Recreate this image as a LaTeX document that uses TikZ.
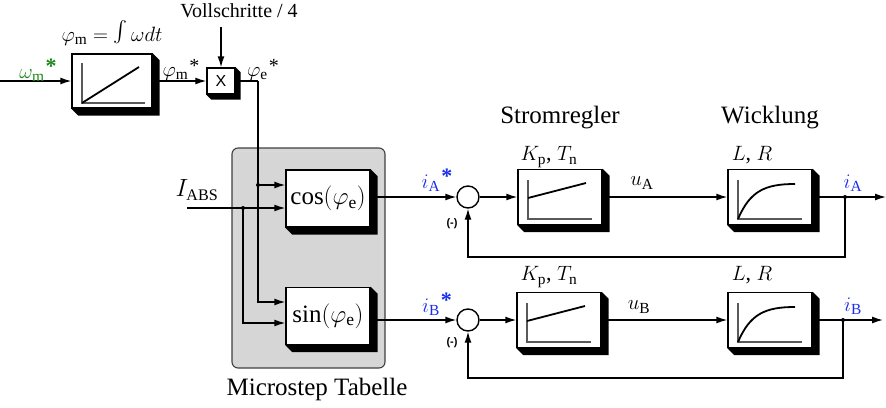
\documentclass[tikz,border=0pt]{standalone}
\usepackage{fontspec}
\setmainfont{Liberation Serif}
\newfontfamily\arialf{Liberation Sans}
\usetikzlibrary{arrows.meta,calc}
\definecolor{myblue}{RGB}{25,45,235}
\definecolor{mygreen}{RGB}{25,135,25}
\newcommand{\bigst}{\kern1pt\raisebox{5pt}{\fontsize{22}{22}\selectfont\bfseries *}}
\newcommand{\smst}{\kern1pt\raisebox{4pt}{\fontsize{20}{20}\selectfont *}}
\newcommand{\bigint}{\mathop{\raisebox{-2pt}{\scalebox{2.1}{$\textstyle\int$}}}}
\tikzset{
 blk/.style={draw, line width=1.4pt, fill=white, minimum width=84pt, minimum height=55pt, inner sep=0pt},
 arr/.style={line width=1.4pt, -{Latex[length=11pt,width=7pt]}},
 ln/.style={line width=1.4pt},
 lbl/.style={font=\fontsize{22}{24}\selectfont, inner sep=0pt},
 big/.style={font=\fontsize{25}{28}\selectfont, inner sep=0pt},
 ax/.style={line width=1.1pt, black!65},
 crv/.style={line width=1.8pt},
 dot/.style={circle, fill, inner sep=0pt, minimum size=4pt},
 sumc/.style={circle, draw, line width=1.4pt, fill=white, minimum size=22pt, inner sep=0pt},
 minus/.style={font=\arialf\bfseries\fontsize{11}{12}\selectfont, inner sep=0pt},
}
\newcommand{\blkshadow}[2]{\fill (#1.north east) -- ++(#2,#2) -- ($(#1.south east)+(#2,#2)$) -- ($(#1.south west)+(#2,#2)$) -- (#1.south west) -- (#1.south east) -- cycle;}
\begin{document}
\begin{tikzpicture}[x=1pt,y=-1pt]
\useasboundingbox (0,0) rectangle (886,407);
% Microstep table background
\draw[rounded corners=6pt, fill=black!16, draw=black!75, line width=1.1pt] (232,148) rectangle (385,368);
\draw[rounded corners=4pt, draw=white!85!black, line width=0.9pt] (235.5,151.5) rectangle (381.5,364.5);

% blocks
\node[blk, minimum width=80pt, minimum height=54pt] (integ) at (112,81) {};
\node[blk, minimum width=28pt, minimum height=26pt, font=\arialf\fontsize{16}{18}\selectfont] (mult) at (221,81) {X};
\node[blk, minimum height=57pt, big] (cosb) at (328,198.5) {$\cos(\varphi_{\mathrm{e}})$};
\node[blk, minimum height=57pt, big] (sinb) at (328,316) {$\sin(\varphi_{\mathrm{e}})$};
\node[sumc] (sumA) at (468,197) {};
\node[sumc] (sumB) at (468,320) {};
\node[blk] (ctrlA) at (560,197) {};
\node[blk] (windA) at (770,197) {};
\node[blk] (ctrlB) at (559,320) {};
\node[blk] (windB) at (770,320) {};

\blkshadow{integ}{7}
\blkshadow{mult}{5}
\blkshadow{cosb}{7}
\blkshadow{sinb}{7}
\blkshadow{ctrlA}{7}
\blkshadow{windA}{7}
\blkshadow{ctrlB}{7}
\blkshadow{windB}{7}

% block graphics
\begin{scope}[shift={(integ.center)}]
 \draw[ax] (-30,-18) -- (-30,22) -- (33,22);
 \draw[crv] (-30,22) -- (27,-14);
\end{scope}
\foreach \n in {ctrlA,ctrlB}{
 \begin{scope}[shift={(\n.center)}]
  \draw[ax] (-32,-17) -- (-32,22) -- (32,22);
  \draw[crv] (-32,1) -- (26,-14);
 \end{scope}
}
\foreach \n in {windA,windB}{
 \begin{scope}[shift={(\n.center)}]
  \draw[ax] (-32,-17) -- (-32,22) -- (32,22);
  \draw[crv] (-32,22) .. controls (-20,-6) and (-5,-13) .. (25,-13);
 \end{scope}
}

% connectors top
\coordinate (in) at (0,81);
\draw[arr] (in) -- (integ);
\draw[arr] (integ) -- (mult);
\coordinate (vs) at (221,27);
\draw[arr] (vs) -- (mult);
\coordinate (pe) at (258,81);
\draw[ln] (mult) -- (pe);
\draw[arr] (pe) |- ($(sinb.west)+(0,-14)$);
\coordinate (pc) at (258,185);
\node[dot] (pcd) at (pc) {};
\draw[arr] (pc) -- (cosb.west |- pc);
\coordinate (iabs) at (187,208);
\draw[arr] (iabs) -- (cosb.west |- iabs);
\coordinate (ic) at (243,208);
\node[dot] (icd) at (ic) {};
\draw[arr] (ic) |- ($(sinb.west)+(0,7)$);

% row A
\draw[arr] (cosb.east |- sumA) -- (sumA);
\draw[arr] (sumA) -- (ctrlA);
\draw[arr] (ctrlA) -- (windA);
\coordinate (outA) at (886,197);
\draw[arr] (windA) -- (outA);
\coordinate (fA) at (845,197);
\node[dot] (fAd) at (fA) {};
\draw[arr] (fA) -- ++(0,60) -| (sumA.south);

% row B
\draw[arr] (sinb.east |- sumB) -- (sumB);
\draw[arr] (sumB) -- (ctrlB);
\draw[arr] (ctrlB) -- (windB);
\coordinate (outB) at (883,320);
\draw[arr] (windB) -- (outB);
\coordinate (fB) at (843,320);
\node[dot] (fBd) at (fB) {};
\draw[arr] (fB) -- ++(0,58) -| (sumB.south);

% labels
\node[lbl, text=mygreen] (lw) at (38,70) {$\omega_{\mathrm{m}}$\bigst};
\node[lbl] (lphi) at (112,33) {$\varphi_{\mathrm{m}} = \bigint \omega dt$};
\node[lbl, font=\fontsize{20}{24}\selectfont] (lvs) at (239,11) {Vollschritte / 4};
\node[lbl] (lpm) at (181,70) {$\varphi_{\mathrm{m}}$\smst};
\node[lbl] (lpe) at (263,70) {$\varphi_{\mathrm{e}}$\smst};
\node[lbl, font=\fontsize{23}{26}\selectfont] (liabs) at (197,190) {$I_{\mathrm{ABS}}$};
\node[big] (lsr) at (560,118) {Stromregler};
\node[big] (lwk) at (770,118) {Wicklung};
\node[lbl] (lkA) at (549,157) {$K_{\mathrm{p}}$, $T_{\mathrm{n}}$};
\node[lbl] (llA) at (752,155) {$L$, $R$};
\node[lbl] (lkB) at (549,277) {$K_{\mathrm{p}}$, $T_{\mathrm{n}}$};
\node[lbl] (llB) at (752,275) {$L$, $R$};
\node[lbl] (luA) at (642,183) {$u_{\mathrm{A}}$};
\node[lbl] (luB) at (639,307) {$u_{\mathrm{B}}$};
\node[lbl, text=myblue] (liAs) at (437,180) {$i_{\mathrm{A}}$\bigst};
\node[lbl, text=myblue] (liBs) at (437,304) {$i_{\mathrm{B}}$\bigst};
\node[lbl, text=myblue] (liA) at (853,183) {$i_{\mathrm{A}}$};
\node[lbl, text=myblue] (liB) at (853,306) {$i_{\mathrm{B}}$};
\node[minus] (lmA) at (452,224) {(-)};
\node[minus] (lmB) at (452,343) {(-)};
\node[big] (lmt) at (317,389) {Microstep Tabelle};
\end{tikzpicture}
\end{document}
